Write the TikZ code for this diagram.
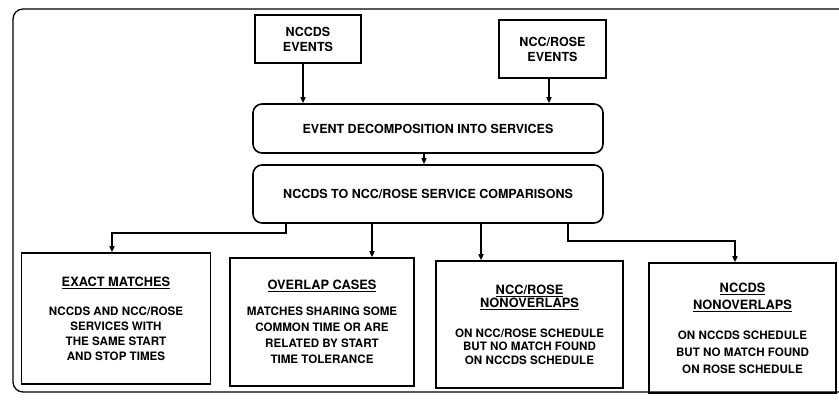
\documentclass[tikz,border=0pt]{standalone}
\usepackage{fontspec}
\setmainfont{TeX Gyre Heros}
\usetikzlibrary{arrows.meta}
\begin{document}
\begin{tikzpicture}[x=1pt,y=-1pt,
  box/.style={draw, line width=1.6pt, inner sep=0pt, align=center,
    font=\bfseries\fontsize{12.5}{15}\selectfont},
  rbox/.style={box, rounded corners=9pt},
  res/.style={box, font=\bfseries\fontsize{11.6}{#1}\selectfont},
  res/.default=14.5,
  arr/.style={line width=1.4pt, -{Triangle[length=6pt,width=5pt]}},
  frame/.style={line width=1.3pt, rounded corners=10pt}]
\useasboundingbox (0,0) rectangle (839,404);
\newcommand{\hdfont}{\fontsize{12.8}{14}\selectfont}
% outer frame
\draw[frame] (839,9) -- (13,9) -- (13,392) -- (839,392);
% sources
\node[box, minimum width=106pt, minimum height=48pt] (ne) at (308,39) {NCCDS\\EVENTS};
\node[box, minimum width=107pt, minimum height=58pt] (re) at (552.5,49) {NCC/ROSE\\EVENTS};
% processes
\node[rbox, minimum width=350pt, minimum height=49pt] (dec) at (428,128.5) {EVENT DECOMPOSITION INTO SERVICES};
\node[rbox, minimum width=350pt, minimum height=58pt] (cmp) at (428,194) {NCCDS TO NCC/ROSE SERVICE COMPARISONS};
% results
\node[res=15, minimum width=189pt, minimum height=131pt] (b1) at (116,318.5)
  {{\hdfont\underline{EXACT MATCHES}}\\[14pt]NCCDS AND NCC/ROSE\\SERVICES WITH\\THE SAME START\\AND STOP TIMES};
\node[res=16, minimum width=184pt, minimum height=128pt] (b2) at (322,322)
  {{\hdfont\underline{OVERLAP CASES}}\\[10pt]MATCHES SHARING SOME\\COMMON TIME OR ARE\\RELATED BY START\\TIME TOLERANCE};
\node[res=13.5, minimum width=187pt, minimum height=127pt] (b3) at (529.5,324.5)
  {{\hdfont\underline{NCC/ROSE}}\\{\hdfont\underline{NONOVERLAPS}}\\[16pt]ON NCC/ROSE SCHEDULE\\BUT NO MATCH FOUND\\ON NCCDS SCHEDULE};
\node[res=17, minimum width=187pt, minimum height=130pt] (b4) at (742.5,328)
  {{\hdfont\underline{NCCDS}}\\{\hdfont\underline{NONOVERLAPS}}\\[13pt]ON NCCDS SCHEDULE\\BUT NO MATCH FOUND\\ON ROSE SCHEDULE};
% connectors
\draw[arr] ([xshift=-5pt]ne.south) -- ([xshift=-5pt]ne.south |- dec.north);
\draw[arr] ([xshift=-3.5pt]re.south) -- ([xshift=-3.5pt]re.south |- dec.north);
\draw[arr] ([xshift=-4pt]dec.south) -- ([xshift=-4pt]dec.south |- cmp.north);
\draw[arr] ([xshift=-142pt]cmp.south) -- ++(0,9) -| ([xshift=-4pt]b1.north);
\draw[arr] ([xshift=-56pt]cmp.south) -- ([xshift=-56pt]cmp.south |- b2.north);
\draw[arr] ([xshift=53pt]cmp.south) -- ([xshift=53pt]cmp.south |- b3.north);
\draw[arr] ([xshift=140pt]cmp.south) -- ++(0,17) -| ([xshift=-7.5pt]b4.north);
\end{tikzpicture}
\end{document}
